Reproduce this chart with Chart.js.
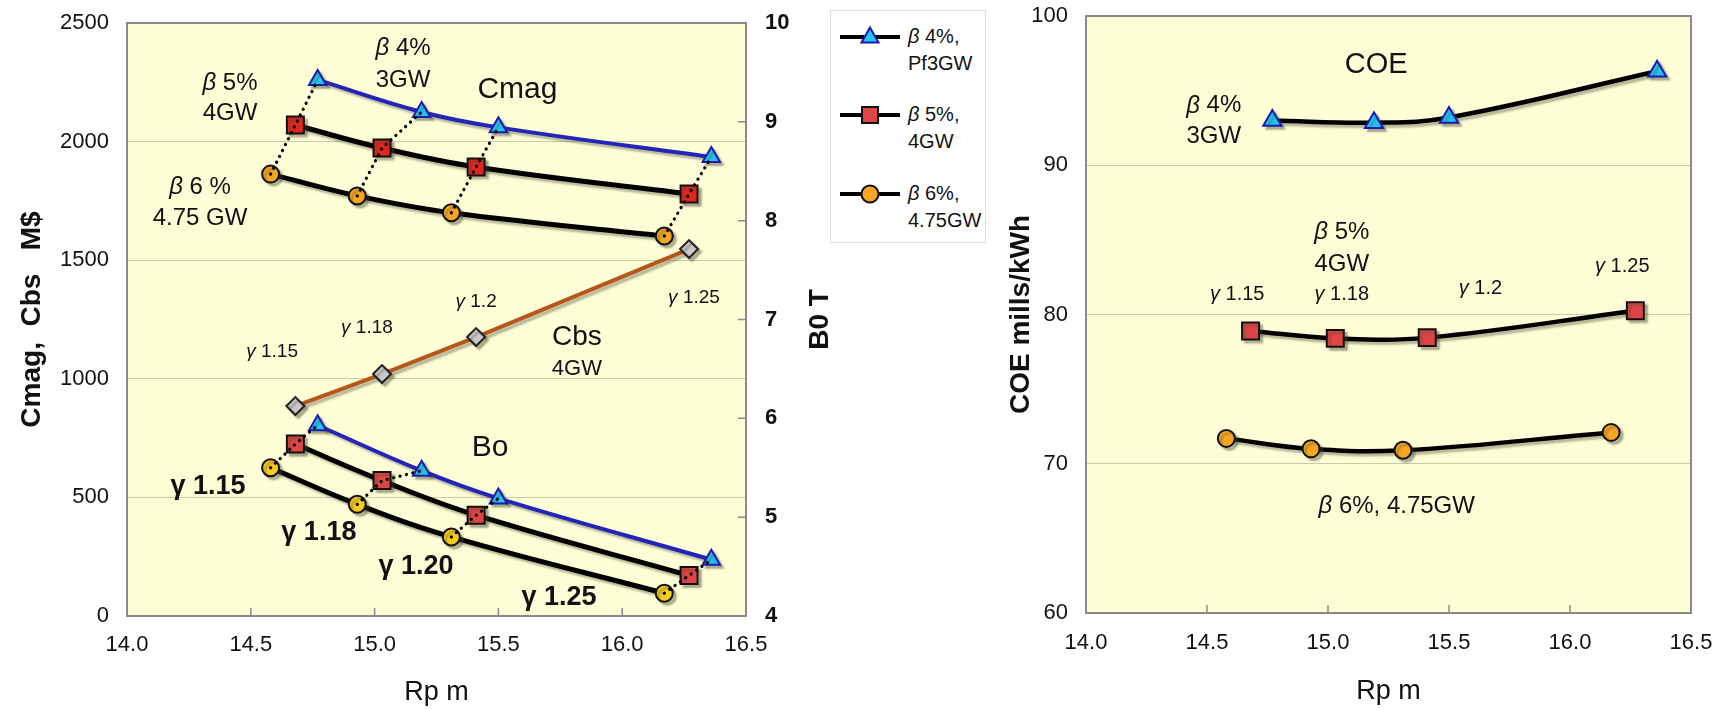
<!DOCTYPE html>
<html>
<head>
<meta charset="utf-8">
<script src="https://cdn.jsdelivr.net/npm/chart.js@4.4.1/dist/chart.umd.min.js"></script>
<style>
  html, body { margin: 0; padding: 0; background: #fff; }
  body { width: 1720px; height: 709px; position: relative; overflow: hidden; font-family: "Liberation Sans", Arial, sans-serif; color: #111; }
  #leftChart { position: absolute; left: 0; top: 0; }
  #rightChart { position: absolute; left: 990px; top: 0; }
  #legend { position: absolute; left: 830px; top: 10px; width: 156px; height: 233px; border: 1px solid #dedede; box-sizing: border-box; background: #fff; }
  #legend .item { position: absolute; left: 0; width: 100%; }
  #legend svg { position: absolute; left: 8px; }
  #legend .txt { position: absolute; left: 77px; font-size: 20px; line-height: 27px; white-space: nowrap; }
  #legend i { font-style: italic; }
</style>
</head>
<body>
<canvas id="leftChart" width="830" height="709"></canvas>
<canvas id="rightChart" width="730" height="709"></canvas>
<div id="legend">
  <div class="item" style="top:13px">
    <svg width="64" height="24" style="top:1px"><line x1="1" y1="12" x2="61" y2="12" stroke="#000" stroke-width="4"/><polygon points="31,2.5 22.5,17.5 39.5,17.5" fill="#22c4f2" stroke="#1b1bb0" stroke-width="2"/></svg>
    <div class="txt" style="top:-1px"><i>β</i> 4%,<br>Pf3GW</div>
  </div>
  <div class="item" style="top:91px">
    <svg width="64" height="24" style="top:1px"><line x1="1" y1="12" x2="61" y2="12" stroke="#000" stroke-width="4"/><rect x="23" y="4" width="16" height="16" fill="#e04545" stroke="#111" stroke-width="2"/></svg>
    <div class="txt" style="top:-1px"><i>β</i> 5%,<br>4GW</div>
  </div>
  <div class="item" style="top:170px">
    <svg width="64" height="24" style="top:1px"><line x1="1" y1="12" x2="61" y2="12" stroke="#000" stroke-width="4"/><circle cx="31" cy="12" r="8.5" fill="#f6a623" stroke="#111" stroke-width="2"/></svg>
    <div class="txt" style="top:-1px"><i>β</i> 6%,<br>4.75GW</div>
  </div>
</div>
<script>
// plasma radius Rp (m) for each beta case
const rpBeta4 = [14.77, 15.19, 15.50, 16.36];
const rpBeta5 = [14.68, 15.03, 15.41, 16.27];
const rpBeta6 = [14.58, 14.93, 15.31, 16.17];

// magnet cost Cmag (M$)
const cmagBeta4 = [2260, 2125, 2060, 1935];
const cmagBeta5 = [2070, 1973, 1893, 1779];
const cmagBeta6 = [1863, 1771, 1700, 1602];

// blanket/shield cost Cbs (M$), 4GW case
const cbsBeta5 = [885, 1020, 1176, 1547];

// toroidal field B0 (T)
const boBeta4 = [5.93, 5.47, 5.19, 4.57];
const boBeta5 = [5.74, 5.37, 5.02, 4.41];
const boBeta6 = [5.50, 5.13, 4.80, 4.23];

// cost of electricity (mills/kWh)
const coeBeta4 = [93.0, 92.85, 93.2, 96.3];
const coeBeta5 = [78.9, 78.4, 78.45, 80.25];
const coeBeta6 = [71.7, 71.0, 70.9, 72.1];

const gammaLabels = ["1.15", "1.18", "1.2", "1.25"];

const SANS = "'Liberation Sans', Arial, sans-serif";

const colors = {
  plot: "#fdfdd6",
  grid: "#cacab0",
  frame: "#8a8a8a",
  blueLine: "#2424b8",
  triFill: "#22c4f2",
  triEdge: "#1b1bb0",
  square: "#e0261c",
  squareLight: "#e04545",
  orange: "#f6a623",
  yellow: "#f8cb1c",
  diamond: "#c9c9c9",
  brown: "#b5561c",
};

function pts(xs, ys) {
  return xs.map((x, i) => ({ x, y: ys[i] }));
}

function series(xs, ys, axis, line, width, marker) {
  return {
    data: pts(xs, ys),
    yAxisID: axis,
    borderColor: line,
    borderWidth: width,
    tension: marker.tension ?? 0.4,
    pointStyle: marker.style,
    pointRadius: marker.radius,
    pointHoverRadius: marker.radius,
    pointBackgroundColor: marker.fill,
    pointBorderColor: marker.edge,
    pointBorderWidth: 2,
    shadow: true,
    order: 2,
  };
}

function links(ys6, ys5, ys4, axis) {
  return rpBeta6.map((_, i) => ({
    data: [
      { x: rpBeta6[i], y: ys6[i] },
      { x: rpBeta5[i], y: ys5[i] },
      { x: rpBeta4[i], y: ys4[i] },
    ],
    yAxisID: axis,
    borderColor: "#000",
    borderWidth: 3.2,
    borderDash: [0.1, 6.5],
    borderCapStyle: "round",
    pointRadius: 0,
    tension: 0,
    order: 0,
  }));
}

// fixed axis boxes, so the plot area lands where the original has it
function fixBox(size) {
  return (s) => {
    if (s.isHorizontal()) {
      s.height = size;
    } else {
      s.width = size;
    }
    s.paddingTop = 0;
    s.paddingBottom = 0;
    s.paddingLeft = 0;
    s.paddingRight = 0;
  };
}

const plotBackground = {
  id: "plotBackground",
  beforeDraw(chart) {
    const { ctx, chartArea: a } = chart;
    ctx.save();
    ctx.fillStyle = colors.plot;
    ctx.fillRect(a.left, a.top, a.right - a.left, a.bottom - a.top);
    ctx.restore();
  },
};

const dropShadow = {
  id: "dropShadow",
  beforeDatasetDraw(chart, args) {
    const ds = chart.data.datasets[args.index];
    chart.ctx.save();
    if (ds.shadow) {
      chart.ctx.shadowColor = "rgba(70, 70, 50, 0.38)";
      chart.ctx.shadowOffsetX = 3;
      chart.ctx.shadowOffsetY = 3;
      chart.ctx.shadowBlur = 2;
    }
  },
  afterDatasetDraw(chart) {
    chart.ctx.restore();
  },
};

const plotFrame = {
  id: "plotFrame",
  beforeDatasetsDraw(chart, _args, opts) {
    const { ctx, chartArea: a, scales } = chart;
    ctx.save();
    ctx.strokeStyle = colors.frame;
    ctx.lineWidth = 1.5;
    ctx.beginPath();
    scales.x.ticks.forEach((t) => {
      const px = scales.x.getPixelForValue(t.value);
      if (px > a.left + 2 && px < a.right - 2) {
        ctx.moveTo(px, a.bottom);
        ctx.lineTo(px, a.bottom - 8);
      }
    });
    if (opts.rightAxis) {
      const s = scales[opts.rightAxis];
      s.ticks.forEach((t) => {
        const py = s.getPixelForValue(t.value);
        if (py > a.top + 2 && py < a.bottom - 2) {
          ctx.moveTo(a.right, py);
          ctx.lineTo(a.right - 8, py);
        }
      });
    }
    ctx.stroke();
    ctx.lineWidth = 2;
    ctx.strokeRect(a.left, a.top, a.right - a.left, a.bottom - a.top);
    ctx.restore();
  },
};

function drawNote(ctx, note, cx, cy) {
  const base = `${note.weight || "normal"} ${note.size}px ${note.family}`;
  const segs = [];
  const m = note.text.match(/^([βγ])(.*)$/);
  if (m) {
    segs.push([m[1], note.upright ? base : `italic ${base}`]);
    segs.push([m[2], base]);
  } else {
    segs.push([note.text, base]);
  }
  let total = 0;
  segs.forEach((s) => {
    ctx.font = s[1];
    total += ctx.measureText(s[0]).width;
  });
  let x = cx - total / 2;
  segs.forEach((s) => {
    ctx.font = s[1];
    ctx.fillText(s[0], x, cy);
    x += ctx.measureText(s[0]).width;
  });
}

const notes = {
  id: "notes",
  afterDatasetsDraw(chart, _args, opts) {
    const { ctx, scales } = chart;
    ctx.save();
    ctx.fillStyle = "#111";
    ctx.textBaseline = "middle";
    ctx.textAlign = "left";
    (opts.items || []).forEach((n) => {
      const cx = scales.x.getPixelForValue(n.x);
      const cy = scales[n.axis || "y"].getPixelForValue(n.y);
      drawNote(ctx, n, cx, cy);
    });
    if (opts.sideTitle) {
      const t = opts.sideTitle;
      const a = chart.chartArea;
      ctx.translate(t.x, (a.top + a.bottom) / 2);
      ctx.rotate(-Math.PI / 2);
      ctx.textAlign = "center";
      ctx.font = t.font;
      ctx.fillText(t.text, 0, 0);
    }
    ctx.restore();
  },
};

function note(text, x, y, size, extra = {}) {
  return { text, x, y, size, family: SANS, ...extra };
}

const leftNotes = [
  note("β 5%", 14.416, 2247, 24),
  note("4GW", 14.416, 2121, 24),
  note("β 4%", 15.115, 2395, 24),
  note("3GW", 15.115, 2260, 24),
  note("Cmag", 15.577, 2218, 30),
  note("β 6 %", 14.295, 1809, 24),
  note("4.75 GW", 14.295, 1678, 24),
  note(`γ ${gammaLabels[0]}`, 14.586, 1113, 19),
  note(`γ ${gammaLabels[1]}`, 14.969, 1214, 19),
  note(`γ ${gammaLabels[2]}`, 15.41, 1324, 19),
  note(`γ ${gammaLabels[3]}`, 16.29, 1341, 19),
  note("Cbs", 15.817, 1176, 28),
  note("4GW", 15.817, 1041, 22),
  note("Bo", 15.466, 708, 30),
  note("γ 1.15", 14.327, 544, 27, { weight: "bold", upright: true }),
  note("γ 1.18", 14.775, 350, 27, { weight: "bold", upright: true }),
  note("γ 1.20", 15.167, 207, 27, { weight: "bold", upright: true }),
  note("γ 1.25", 15.745, 76, 27, { weight: "bold", upright: true }),
];

const rightNotes = [
  note("COE", 15.199, 96.72, 29),
  note("β 4%", 14.528, 93.98, 24),
  note("3GW", 14.528, 91.91, 24),
  note("β 5%", 15.057, 85.48, 24),
  note("4GW", 15.057, 83.34, 24),
  note(`γ ${gammaLabels[0]}`, 14.625, 81.34, 20),
  note(`γ ${gammaLabels[1]}`, 15.057, 81.34, 20),
  note(`γ ${gammaLabels[2]}`, 15.63, 81.74, 20),
  note(`γ ${gammaLabels[3]}`, 16.216, 83.21, 20),
  note("β 6%, 4.75GW", 15.284, 67.16, 24),
];

const tri = (r) => ({ style: "triangle", radius: r, fill: colors.triFill, edge: colors.triEdge });
const sq = (r, fill) => ({ style: "rect", radius: r, fill, edge: "#111" });
const dot = (r, fill) => ({ style: "circle", radius: r, fill, edge: "#111" });

const tickFont = { family: SANS, size: 22 };
const xTickLabel = (v) => Number(v).toFixed(1);

new Chart(document.getElementById("leftChart"), {
  type: "line",
  plugins: [plotBackground, dropShadow, plotFrame, notes],
  data: {
    datasets: [
      ...links(cmagBeta6, cmagBeta5, cmagBeta4, "y"),
      ...links(boBeta6, boBeta5, boBeta4, "yB"),
      series(rpBeta4, cmagBeta4, "y", colors.blueLine, 4, tri(10)),
      series(rpBeta5, cmagBeta5, "y", "#000", 5, sq(12, colors.square)),
      series(rpBeta6, cmagBeta6, "y", "#000", 5, dot(8.5, colors.orange)),
      series(rpBeta5, cbsBeta5, "y", colors.brown, 4, { style: "rectRot", radius: 9, fill: colors.diamond, edge: "#222", tension: 0 }),
      series(rpBeta4, boBeta4, "yB", colors.blueLine, 4, tri(10)),
      series(rpBeta5, boBeta5, "yB", "#000", 5, sq(12, colors.squareLight)),
      series(rpBeta6, boBeta6, "yB", "#000", 5, dot(8.5, colors.yellow)),
    ],
  },
  options: {
    responsive: false,
    animation: false,
    layout: { padding: { top: 23, left: 0, right: 0, bottom: 0 } },
    plugins: {
      legend: { display: false },
      tooltip: { enabled: false },
      plotFrame: { rightAxis: "yB" },
      notes: {
        items: leftNotes,
        sideTitle: { text: "B0 T", x: 820, font: `bold 28px ${SANS}` },
      },
    },
    scales: {
      x: {
        type: "linear",
        min: 14,
        max: 16.5,
        ticks: { stepSize: 0.5, callback: xTickLabel, font: tickFont, color: "#111", padding: 16, maxRotation: 0, autoSkip: false },
        grid: { display: false, drawTicks: false },
        border: { display: false },
        title: { display: true, text: "Rp m", font: { family: SANS, size: 27 }, color: "#111", padding: { top: 0, bottom: 0 } },
        afterFit: fixBox(93),
      },
      y: {
        type: "linear",
        position: "left",
        min: 0,
        max: 2500,
        ticks: { stepSize: 500, callback: (v) => String(v), font: tickFont, color: "#111", padding: 18 },
        grid: { color: colors.grid, lineWidth: 1, drawTicks: false },
        border: { display: false },
        title: {
          display: true,
          text: "Cmag,  Cbs   M$",
          font: { family: SANS, size: 28, weight: "bold" },
          color: "#111",
          padding: { top: 15, bottom: 0 },
        },
        afterFit: fixBox(127),
      },
      yB: {
        type: "linear",
        axis: "y",
        position: "right",
        min: 4,
        max: 10,
        ticks: { stepSize: 1, font: { family: SANS, size: 22, weight: "bold" }, color: "#111", padding: 19 },
        grid: { display: false, drawTicks: false },
        border: { display: false },
        afterFit: fixBox(84),
      },
    },
  },
});

new Chart(document.getElementById("rightChart"), {
  type: "line",
  plugins: [plotBackground, dropShadow, plotFrame, notes],
  data: {
    datasets: [
      series(rpBeta4, coeBeta4, "y", "#000", 4.5, tri(10.5)),
      series(rpBeta5, coeBeta5, "y", "#000", 4.5, sq(12, colors.squareLight)),
      series(rpBeta6, coeBeta6, "y", "#000", 4.5, dot(8.5, colors.orange)),
    ],
  },
  options: {
    responsive: false,
    animation: false,
    layout: { padding: { top: 16, left: 0, right: 29, bottom: 0 } },
    plugins: {
      legend: { display: false },
      tooltip: { enabled: false },
      plotFrame: {},
      notes: { items: rightNotes },
    },
    scales: {
      x: {
        type: "linear",
        min: 14,
        max: 16.5,
        ticks: { stepSize: 0.5, callback: xTickLabel, font: tickFont, color: "#111", padding: 17, maxRotation: 0, autoSkip: false },
        grid: { display: false, drawTicks: false },
        border: { display: false },
        title: { display: true, text: "Rp m", font: { family: SANS, size: 27 }, color: "#111", padding: { top: 0, bottom: 1 } },
        afterFit: fixBox(96),
      },
      y: {
        type: "linear",
        position: "left",
        min: 60,
        max: 100,
        ticks: { stepSize: 10, font: tickFont, color: "#111", padding: 18 },
        grid: { color: colors.grid, lineWidth: 1, drawTicks: false },
        border: { display: false },
        title: {
          display: true,
          text: "COE mills/kWh",
          font: { family: SANS, size: 28, weight: "bold" },
          color: "#111",
          padding: { top: 14, bottom: 0 },
        },
        afterFit: fixBox(96),
      },
    },
  },
});
</script>
</body>
</html>
